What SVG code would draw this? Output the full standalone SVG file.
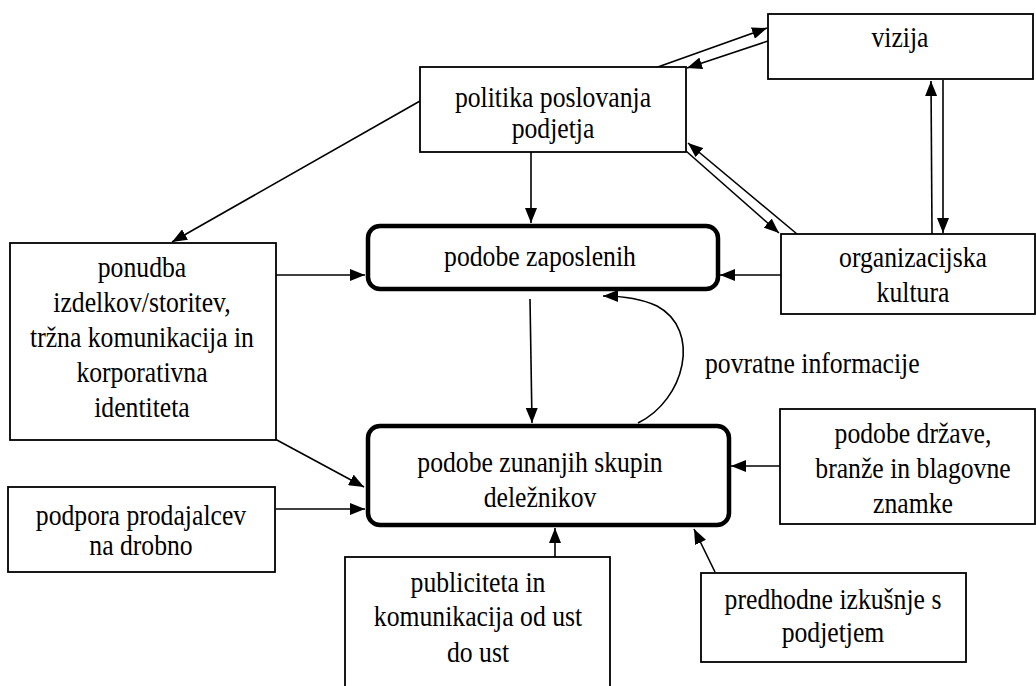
<svg xmlns="http://www.w3.org/2000/svg" width="1036" height="686" viewBox="0 0 1036 686">
  <style>
    .box { fill: #ffffff; stroke: #000000; stroke-width: 1.8; }
    .core { fill: #ffffff; stroke: #000000; stroke-width: 4.5; }
    .lbl { font-family: "Liberation Serif", "Times New Roman", serif; font-size: 25.7px; fill: #000000; text-anchor: middle;
           transform-box: fill-box; transform-origin: center; transform: scaleY(1.12); }
    .link { fill: none; stroke: #000000; stroke-width: 1.6; marker-end: url(#head); }
  </style>
  <defs>
    <marker id="head" markerUnits="userSpaceOnUse" markerWidth="16" markerHeight="12" viewBox="0 0 16 12" refX="15" refY="6" orient="auto">
      <path d="M0,0 L15,6 L0,12 z" fill="#000000"/>
    </marker>
  </defs>
  <rect width="1036" height="686" fill="#ffffff"/>

  <g id="connectors">
    <path class="link" d="M655,68 L767,28"/>
    <path class="link" d="M768,41 L687,68"/>
    <path class="link" d="M531,152 L531,223"/>
    <path class="link" d="M686,151 L779,233"/>
    <path class="link" d="M797,234 L688,143"/>
    <path class="link" d="M932,234 L931,81"/>
    <path class="link" d="M943,80 L943,233"/>
    <path class="link" d="M420,101 L172,242"/>
    <path class="link" d="M276,275 L365,275"/>
    <path class="link" d="M781,275 L720,275"/>
    <path class="link" d="M530,299 L532,423"/>
    <path class="link" d="M638,423 C685,400 702,330 657,306 C642,299 625,296 603,296"/>
    <path class="link" d="M275,439 L364,487"/>
    <path class="link" d="M276,509 L365,509"/>
    <path class="link" d="M555,557 L555,528"/>
    <path class="link" d="M715,572 L694,529"/>
    <path class="link" d="M780,466 L731,466"/>
  </g>

  <g id="vizija">
    <rect class="box" x="768" y="14" width="265" height="65"/>
    <text class="lbl" x="900" y="46">vizija</text>
  </g>

  <g id="politika">
    <rect class="box" x="420" y="67" width="266" height="85"/>
    <text class="lbl" x="553" y="106">politika poslovanja</text>
    <text class="lbl" x="553" y="137">podjetja</text>
  </g>

  <g id="zaposleni">
    <rect class="core" x="368" y="226" width="350" height="63" rx="12"/>
    <text class="lbl" x="540" y="265">podobe zaposlenih</text>
  </g>

  <g id="kultura">
    <rect class="box" x="781" y="234" width="254" height="80"/>
    <text class="lbl" x="913" y="266">organizacijska</text>
    <text class="lbl" x="913" y="301">kultura</text>
  </g>

  <g id="ponudba">
    <rect class="box" x="10" y="243" width="266" height="197"/>
    <text class="lbl" x="142" y="276">ponudba</text>
    <text class="lbl" x="142" y="311">izdelkov/storitev,</text>
    <text class="lbl" x="142" y="346">tržna komunikacija in</text>
    <text class="lbl" x="142" y="381">korporativna</text>
    <text class="lbl" x="142" y="416">identiteta</text>
  </g>

  <g id="povratne">
    <text class="lbl" x="705" y="372" style="text-anchor:start">povratne informacije</text>
  </g>

  <g id="zunanji">
    <rect class="core" x="368" y="426" width="361" height="99" rx="12"/>
    <text class="lbl" x="540" y="471">podobe zunanjih skupin</text>
    <text class="lbl" x="540" y="506">deležnikov</text>
  </g>

  <g id="drzava">
    <rect class="box" x="780" y="409" width="255" height="115"/>
    <text class="lbl" x="913" y="442">podobe države,</text>
    <text class="lbl" x="913" y="477">branže in blagovne</text>
    <text class="lbl" x="913" y="512">znamke</text>
  </g>

  <g id="podpora">
    <rect class="box" x="8" y="487" width="267" height="85"/>
    <text class="lbl" x="141" y="524">podpora prodajalcev</text>
    <text class="lbl" x="141" y="554">na drobno</text>
  </g>

  <g id="publiciteta">
    <rect class="box" x="345" y="557" width="265" height="140"/>
    <text class="lbl" x="478" y="591">publiciteta in</text>
    <text class="lbl" x="478" y="625">komunikacija od ust</text>
    <text class="lbl" x="478" y="661">do ust</text>
  </g>

  <g id="izkusnje">
    <rect class="box" x="701" y="573" width="265" height="89"/>
    <text class="lbl" x="833" y="608">predhodne izkušnje s</text>
    <text class="lbl" x="833" y="641">podjetjem</text>
  </g>
</svg>
